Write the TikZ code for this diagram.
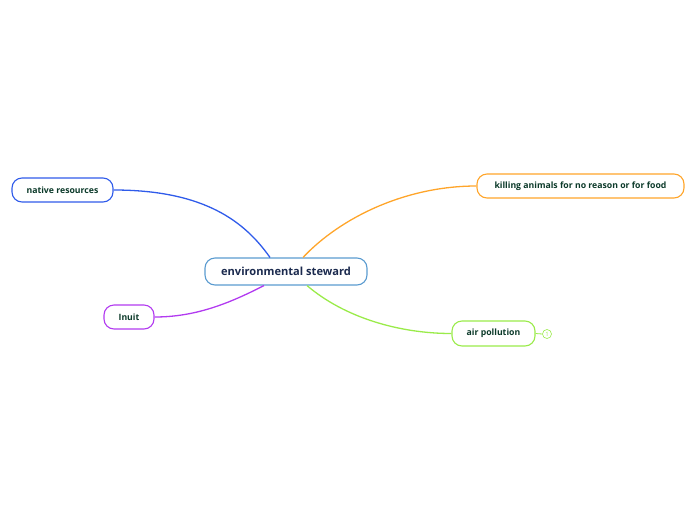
\documentclass[tikz,border=0pt]{standalone}
\usepackage{fontspec}
\setmainfont{Open Sans}
\definecolor{cblue}{HTML}{2F5BEA}
\definecolor{corange}{HTML}{FFA52A}
\definecolor{cpurple}{HTML}{B23BF0}
\definecolor{cgreen}{HTML}{9AEB4A}
\definecolor{cmain}{HTML}{5A9BD0}
\definecolor{tmain}{HTML}{1B2A4E}
\definecolor{tsub}{HTML}{0C3A2A}
\begin{document}
\begin{tikzpicture}[x=1pt,y=-1pt,
  mainbox/.style={draw=cmain,line width=1.1pt,rounded corners=10pt,minimum width=162pt,minimum height=27pt,inner sep=0pt,text=tmain,font=\fontsize{11.1}{13}\selectfont\bfseries},
  subbox/.style={draw=#1,line width=1.1pt,rounded corners=10pt,minimum height=24pt,inner sep=0pt,text=tsub,font=\fontsize{8.7}{10}\selectfont\bfseries},
  link/.style={draw=#1,line width=1.3pt}]
\useasboundingbox (0,0) rectangle (696,520);
\node[mainbox] (c) at (286,271.5) {environmental steward};
\node[subbox=cblue,minimum width=101pt] (nr) at (62.5,190) {native resources};
\node[subbox=cpurple,minimum width=50pt] (in) at (129,317) {Inuit};
\node[subbox=corange,minimum width=207pt] (ka) at (580.5,186) {killing animals for no reason or for food};
\node[subbox=cgreen,minimum width=83pt,minimum height=25pt] (ap) at (493.5,333.5) {air pollution};
\node[draw=cgreen,circle,line width=0.6pt,minimum size=9pt,inner sep=0pt,text=cgreen,font=\fontsize{6}{7}\selectfont] (k) at (547,334) {1};
\coordinate (cnw) at ([xshift=-16pt]c.north);
\coordinate (cne) at ([xshift=17pt]c.north);
\coordinate (csw) at ([xshift=-22pt]c.south);
\coordinate (cse) at ([xshift=21pt]c.south);
\draw[link=cblue] (nr.east) .. controls (205,190) and (245,222) .. (cnw);
\draw[link=corange] (cne) .. controls (340,218) and (405,186) .. (ka.west);
\draw[link=cpurple] (csw) .. controls (228,304) and (195,317) .. (in.east);
\draw[link=cgreen] (cse) .. controls (345,318) and (400,333.5) .. (ap.west);
\draw[cgreen,line width=0.8pt] (ap.east) -- (k.west);
\end{tikzpicture}
\end{document}
